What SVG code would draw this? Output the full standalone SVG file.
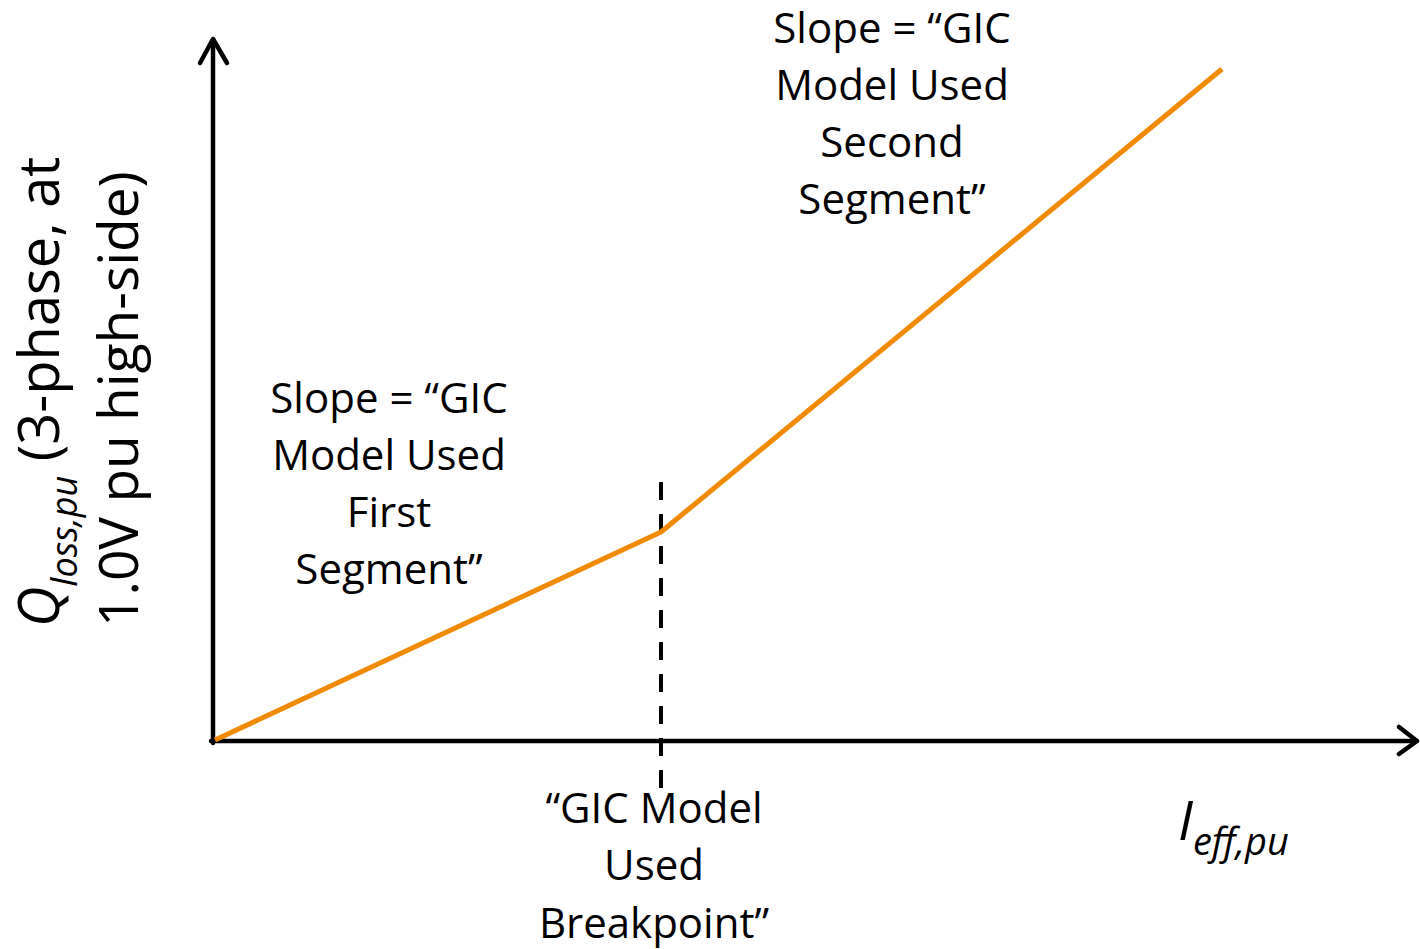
<svg xmlns="http://www.w3.org/2000/svg" width="1420" height="949" viewBox="0 0 1420 949">
<style>
.t{font-family:"Open Sans","Liberation Sans",sans-serif;font-size:42px;fill:#000;text-anchor:middle}
.ax{stroke:#000;stroke-width:4.5;fill:none;stroke-linecap:round;stroke-linejoin:round}
.lab{font-family:"Open Sans","Liberation Sans",sans-serif;fill:#000}
</style>
<rect width="1420" height="949" fill="#fff"/>
<g id="connectors">
<line class="ax" x1="213" y1="743" x2="213" y2="40"/>
<polyline class="ax" points="200,63 213,39 227,63"/>
<line class="ax" x1="211" y1="741" x2="1416" y2="741"/>
<polyline class="ax" points="1399,727 1417,741 1399,754"/>
<line x1="661" y1="482" x2="661" y2="788" stroke="#000" stroke-width="4" stroke-dasharray="18 14"/>
<polyline points="215,740 661,532 1222,69" fill="none" stroke="#F08A00" stroke-width="5" stroke-linejoin="round"/>
</g>
<g id="label-first">
<text class="t" x="389" y="413">Slope = “GIC</text>
<text class="t" x="389" y="470">Model Used</text>
<text class="t" x="389" y="527">First</text>
<text class="t" x="389" y="584">Segment”</text>
</g>
<g id="label-second">
<text class="t" x="892" y="43">Slope = “GIC</text>
<text class="t" x="892" y="100">Model Used</text>
<text class="t" x="892" y="157">Second</text>
<text class="t" x="892" y="214">Segment”</text>
</g>
<g id="label-breakpoint">
<text class="t" x="654" y="823">“GIC Model</text>
<text class="t" x="654" y="880">Used</text>
<text class="t" x="654" y="938">Breakpoint”</text>
</g>
<g id="x-label">
<text class="lab" x="1178" y="840" font-size="55" font-style="italic">I<tspan font-size="38" dy="15">eff,pu</tspan></text>
</g>
<g id="y-label">
<text class="lab" transform="translate(59,627) rotate(-90)" font-size="56"><tspan font-style="italic">Q</tspan><tspan font-style="italic" font-size="36" dy="18">loss,pu</tspan><tspan dy="-18"> (3-phase, at</tspan></text>
<text class="lab" transform="translate(138,627) rotate(-90)" font-size="55">1.0V pu high-side)</text>
</g>
</svg>
